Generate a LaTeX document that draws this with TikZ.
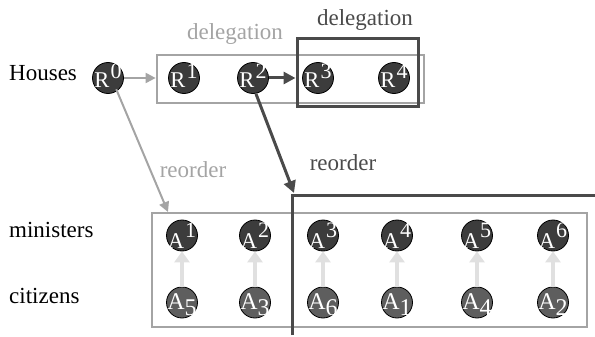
\documentclass[tikz,border=0pt]{standalone}
\usepackage{fontspec}
\setmainfont{Liberation Serif}
\usetikzlibrary{arrows.meta}
\definecolor{lg}{HTML}{A4A4A4}
\definecolor{dg}{HTML}{4A4A4A}
\definecolor{cfill}{HTML}{3C3C3C}
\definecolor{cfillb}{HTML}{5E5E5E}
\definecolor{ar}{HTML}{E0E0E0}
\newcommand{\bigf}{\fontsize{22.5}{22.5}\selectfont}
\newcommand{\digf}{\fontsize{22}{22}\selectfont}
\newcommand{\bigb}{\fontsize{24}{24}\selectfont}
\newcommand{\Rs}[1]{{\bigf R\kern1pt\raisebox{9pt}{\digf #1}}}
\newcommand{\As}[1]{{\bigf A\kern1pt\raisebox{11pt}{\digf #1}}}
\newcommand{\Ab}[1]{{\bigb A\raisebox{-6pt}{\bigb #1}}}
\begin{document}
\begin{tikzpicture}[x=1pt,y=-1pt,
  txt/.style={font=\fontsize{23}{27}\selectfont, inner sep=0pt},
  rc/.style={circle, draw=black, line width=0.8pt, fill=cfill, minimum size=31pt, inner sep=0pt},
  rcb/.style={rc, fill=cfillb},
  lbl/.style={text=white, inner sep=0pt, anchor=base},
  gbox/.style={draw=lg, line width=2.7pt, inner sep=0pt},
  dbox/.style={draw=dg, line width=3pt, inner sep=0pt},
  garr/.style={draw=lg, line width=2pt, -{Triangle[length=10pt,width=10pt]}},
  darr/.style={draw=dg, line width=3pt, -{Triangle[length=12pt,width=12pt]}},
  varr/.style={draw=ar, line width=4.5pt, -{Triangle[length=11pt,width=15pt]}}]
\useasboundingbox (0,0) rectangle (595,337);
% labels
\node[txt, anchor=base west] (houses) at (9,81) {Houses};
\node[txt, anchor=base west] (ministers) at (9,237) {ministers};
\node[txt, anchor=base west] (citizens) at (9,303) {citizens};
% top boxes
\node[gbox, minimum width=267pt, minimum height=48pt] (gb) at (290.5,79) {};
\node[dbox, minimum width=121pt, minimum height=68pt] (db) at (357.5,73) {};
\node[txt, text=lg] (gdel) at (235,34) {delegation};
\node[txt, text=dg] (ddel) at (365,20) {delegation};
% R circles
\foreach \n/\x in {0/108,1/184,2/253,3/318,4/394}{
  \node[rc] (r\n) at (\x,78) {};
  \node[lbl] at ([yshift=-10pt]r\n.center) {\Rs{\n}};
}
% lower box
\node[gbox, minimum width=435pt, minimum height=114pt] (lb) at (369.5,270) {};
\coordinate (cb) at (292,335);
\coordinate (cc) at (292,195);
\coordinate (ce) at (596,195);
\draw[dg, line width=3pt] (cb) -- (cc) -- (ce);
% A circles
\foreach \i/\x/\t/\b in {1/182/1/5,2/255/2/3,3/323/3/6,4/397/4/1,5/477/5/4,6/553/6/2}{
  \node[rc] (a\i) at (\x,235.5) {};
  \node[lbl] at ([yshift=-12.5pt]a\i.center) {\As{\t}};
  \node[rcb] (c\i) at (\x,302.5) {};
  \node[lbl] at ([yshift=-6.5pt]c\i.center) {\Ab{\b}};
  \draw[varr] (c\i.north) -- (a\i.south);
}
% arrows
\draw[garr] (r0.east) -- (gb.west |- r0.east);
\draw[darr] (r2.east) -- (db.west |- r2.east);
\coordinate (gt) at (168,212);
\draw[garr] (r0.south east) ++(-3,0) -- (gt);
\draw[darr] (r2.south) ++(3,0) -- ([xshift=2pt,yshift=2pt]cc);
\node[txt, text=lg] (greo) at (193,170) {reorder};
\node[txt, text=dg] (dreo) at (343,163) {reorder};
\end{tikzpicture}
\end{document}
